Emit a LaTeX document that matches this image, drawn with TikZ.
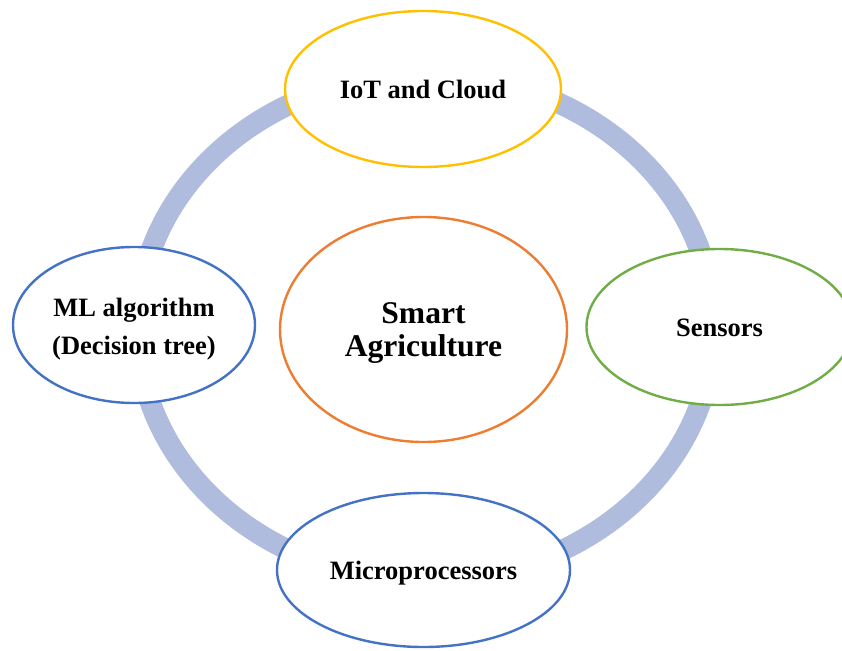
\documentclass[tikz,border=0pt]{standalone}
\usepackage{fontspec}
\setmainfont{Liberation Serif}
\usetikzlibrary{shapes.geometric}

\definecolor{ringblue}{HTML}{AFBCDE}
\definecolor{iotyellow}{HTML}{FFC000}
\definecolor{huborange}{HTML}{ED7D31}
\definecolor{sensgreen}{HTML}{70AD47}
\definecolor{partblue}{HTML}{4472C4}

\tikzset{
  bubble/.style={ellipse, draw, fill=white, line width=2.4pt, inner sep=0pt,
    minimum width=#1},
  bubble/.default=276pt,
  caption/.style={inner sep=0pt, align=center,
    font=\fontsize{26.5}{38}\selectfont\bfseries},
  hubcaption/.style={caption, font=\fontsize{31.6}{33}\selectfont\bfseries}
}

\begin{document}
\begin{tikzpicture}[x=1pt, y=-1pt]
  \useasboundingbox (0,0) rectangle (842,650);
  \clip (0,0) rectangle (842,650);

  % connecting ring behind the bubbles
  \draw[ringblue, line width=21pt] (425.5,327.5) ellipse [x radius=288, y radius=253];

  % hub
  \node[bubble=287pt, draw=huborange, minimum height=225pt] (hub) at (423.5,329.5) {};
  \node[hubcaption] (hubtext) at ([yshift=-4pt]hub.center) {Smart\\Agriculture};

  % surrounding components
  \node[bubble=276pt, draw=iotyellow, minimum height=156pt] (iot) at (423,89) {};
  \node[caption] (iottext) at (iot.center) {IoT and Cloud};

  \node[bubble=266pt, draw=sensgreen, minimum height=156pt] (sens) at (719.5,327) {};
  \node[caption] (senstext) at ([yshift=-1pt]sens.center) {Sensors};

  \node[bubble=293pt, draw=partblue, minimum height=154pt] (micro) at (423.5,570) {};
  \node[caption] (microtext) at ([yshift=-3pt]micro.center) {Microprocessors};

  \node[bubble=242pt, draw=partblue, minimum height=156pt] (ml) at (134,325) {};
  \node[caption] (mltext) at ([yshift=-4pt]ml.center) {ML algorithm\\(Decision tree)};
\end{tikzpicture}
\end{document}
